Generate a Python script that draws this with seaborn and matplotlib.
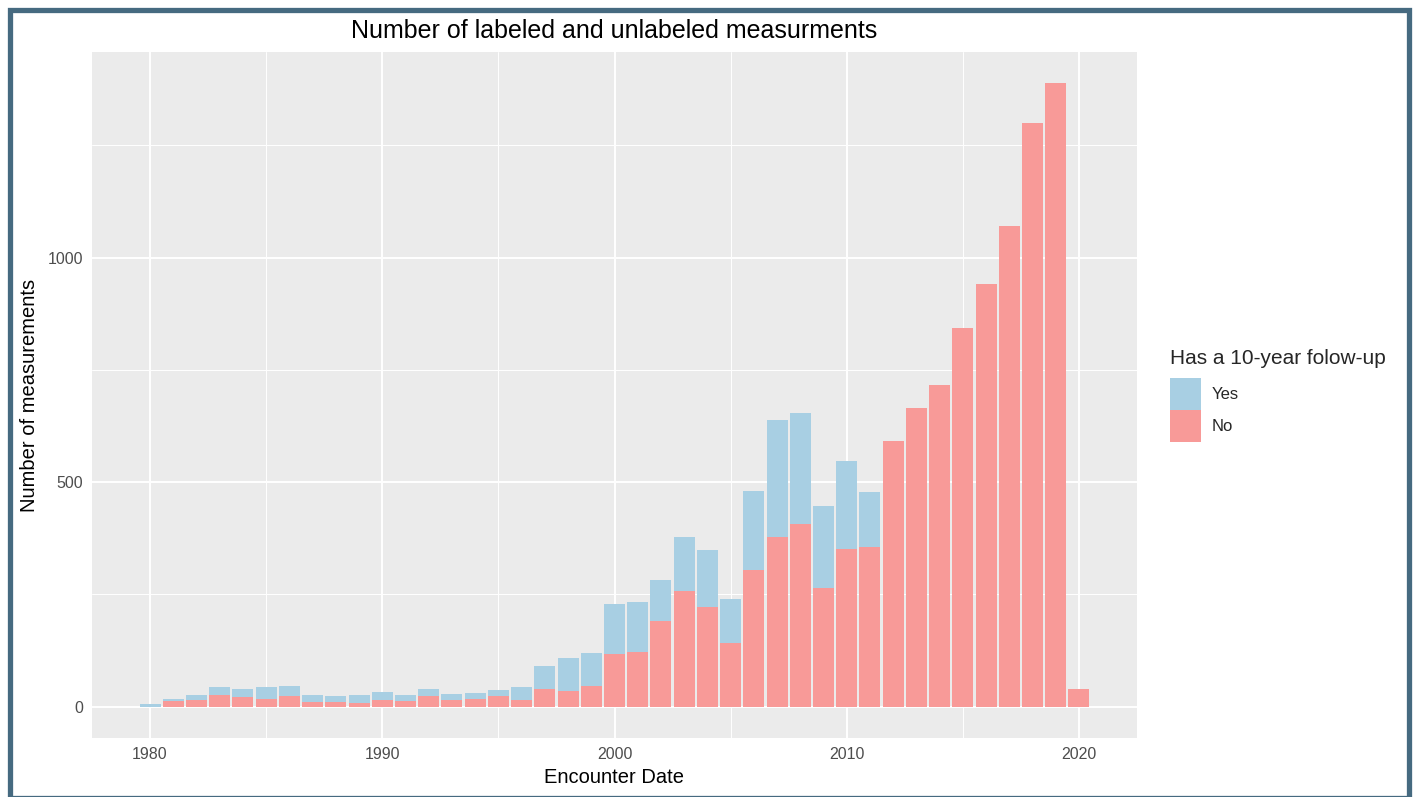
import numpy as np
import pandas as pd
import matplotlib
matplotlib.use("Agg")
import matplotlib.pyplot as plt
from matplotlib.patches import Patch, Rectangle
from matplotlib.ticker import MultipleLocator, FixedLocator
import seaborn as sns

# ---- data ----
years = list(range(1980, 2021))
no_counts = [0, 12, 16, 27, 22, 18, 23, 11, 10, 8,
             16, 14, 24, 16, 17, 23, 16, 39, 36, 47,
             118, 123, 191, 258, 222, 142, 305, 378, 406, 265,
             352, 356, 591, 666, 717, 843, 940, 1071, 1299, 1388,
             40]
total_counts = [6, 18, 26, 45, 39, 45, 46, 27, 23, 27,
                33, 27, 40, 28, 31, 38, 45, 91, 108, 120,
                229, 234, 282, 378, 350, 240, 480, 638, 655, 446,
                547, 477, 591, 666, 717, 843, 940, 1071, 1299, 1388,
                40]
yes_counts = [t - n for t, n in zip(total_counts, no_counts)]
groups = ["Yes", "No"]
x_ticks = [1980, 1990, 2000, 2010, 2020]
y_ticks = [0, 500, 1000]

title = "Number of labeled and unlabeled measurments"
xlabel = "Encounter Date"
ylabel = "Number of measurements"
legend_title = "Has a 10-year folow-up"

colors = {"Yes": "#a8cfe3", "No": "#f89a98"}

df = pd.DataFrame({
    "year": years * 2,
    "status": ["Yes"] * len(years) + ["No"] * len(years),
    "count": yes_counts + no_counts,
})

sns.set_style("white")
plt.rcParams["font.family"] = ["Liberation Sans", "DejaVu Sans"]

W, H = 1414, 797
fig = plt.figure(figsize=(W / 100, H / 100), dpi=100)
fig.patch.set_facecolor("white")

left, right, top, bottom = 92, 1137, 52, 738
ax = fig.add_axes([left / W, 1 - bottom / H, (right - left) / W, (bottom - top) / H])
ax.set_facecolor("#EBEBEB")

sns.histplot(data=df, x="year", weights="count", hue="status",
             hue_order=groups, palette=colors, multiple="stack",
             discrete=True, shrink=0.9, alpha=1, linewidth=0,
             legend=False, ax=ax, zorder=3)

ymax = max(total_counts)
ax.set_xlim(1977.5, 2022.5)
ax.set_ylim(-0.05 * ymax, ymax * 1.05)

ax.xaxis.set_major_locator(FixedLocator(x_ticks))
ax.xaxis.set_minor_locator(MultipleLocator(5))
ax.yaxis.set_major_locator(FixedLocator(y_ticks))
ax.yaxis.set_minor_locator(MultipleLocator(250))
ax.grid(which="major", color="white", linewidth=1.4, zorder=0)
ax.grid(which="minor", color="white", linewidth=0.7, zorder=0)
ax.set_axisbelow(True)
for s in ax.spines.values():
    s.set_visible(False)

ax.tick_params(axis="both", which="major", length=3.5, width=0.9,
               color="#333333", labelcolor="#4D4D4D", labelsize=11.5, pad=3)
ax.tick_params(axis="both", which="minor", length=0)

ax.set_xlabel(xlabel, fontsize=14.5, color="black", labelpad=4)
ax.set_ylabel(ylabel, fontsize=14.5, color="black", labelpad=6)
ax.set_title(title, fontsize=18, color="black", pad=10)

handles = [Patch(facecolor=colors[g], edgecolor="none", label=g) for g in groups]
leg = fig.legend(handles=handles, title=legend_title, loc="upper left",
                 bbox_to_anchor=(1162 / W, 1 - 341 / H), frameon=False,
                 fontsize=12, title_fontsize=15, handlelength=1.85,
                 handleheight=2.58, labelspacing=0.0, handletextpad=0.6,
                 borderpad=0, alignment="left")
leg._legend_box.sep = 7

# outer frame of the figure
fig.patches.append(Rectangle((9.5 / W, -0.5 / H), 1399 / W, 788 / H,
                             transform=fig.transFigure, fill=False,
                             edgecolor="#466a80", linewidth=3.8))

fig.savefig("out.png", dpi=100)
